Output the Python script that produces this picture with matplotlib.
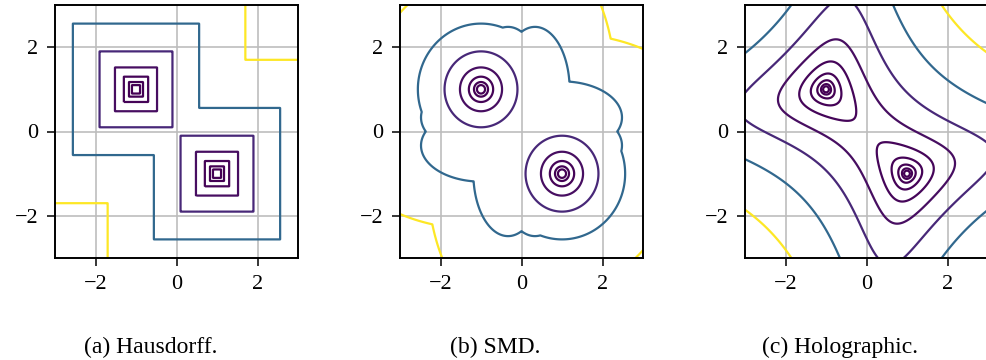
import numpy as np
import matplotlib
matplotlib.use("Agg")
import matplotlib.pyplot as plt

# ---- data -------------------------------------------------------------
target = [-1.0, 1.0]                 # target set (two scalars)
axis_range = [-3.0, 3.0]
ticks = [-2, 0, 2]
haus_levels = [0.01, 0.03, 0.09, 0.27, 0.81, 2.43, 7.29]
smd_levels = [0.01, 0.03, 0.09, 0.27, 0.81, 2.43, 7.29]
holo_levels = [0.0203, 0.061, 0.183, 0.549, 1.646, 4.94, 14.8, 44.4, 133.3]
captions = ["(a) Hausdorff.", "(b) SMD.", "(c) Holographic."]
caption_x = [0.153, 0.502, 0.852]

plt.rcParams["font.family"] = ["Liberation Serif", "DejaVu Serif"]
plt.rcParams["font.size"] = 16

# ---- fields over the set {x, y} ---------------------------------------
g = np.linspace(axis_range[0], axis_range[1], 801)
X, Y = np.meshgrid(g, g)
t = np.array(target)
dx = np.abs(X[..., None] - t)
dy = np.abs(Y[..., None] - t)
m1 = dx.min(-1)
m2 = dy.min(-1)
m3 = np.minimum(dx[..., 0], dy[..., 0])
m4 = np.minimum(dx[..., 1], dy[..., 1])
haus = np.max([m1, m2, m3, m4], axis=0) ** 2
smd = 0.5 * (m1 ** 2 + m2 ** 2 + m3 ** 2 + m4 ** 2)
holo = (dx[..., 0] * dy[..., 0]) ** 2 + (dx[..., 1] * dy[..., 1]) ** 2

fields = [haus, smd, holo]
levels = [haus_levels, smd_levels, holo_levels]

fig = plt.figure(figsize=(9.86, 3.60), dpi=100)
lefts = [55 / 986, 400 / 986, 745 / 986]
for i in range(3):
    ax = fig.add_axes([lefts[i], 102 / 360, 243 / 986, 253 / 360])
    ax.set_axisbelow(True)
    ax.grid(True, color="#bdbdbd", linewidth=1.2)
    ax.contour(X, Y, fields[i], levels=levels[i], cmap="viridis",
               linewidths=1.6)
    ax.set_xlim(axis_range)
    ax.set_ylim(axis_range)
    ax.set_xticks(ticks)
    ax.set_yticks(ticks)
    ax.tick_params(length=6, width=1.1, pad=6, labelsize=16)
    for s in ax.spines.values():
        s.set_linewidth(1.4)
    fig.text(caption_x[i], 0.036, captions[i], ha="center", va="center",
             fontsize=17)

fig.savefig("out.png", dpi=100)
